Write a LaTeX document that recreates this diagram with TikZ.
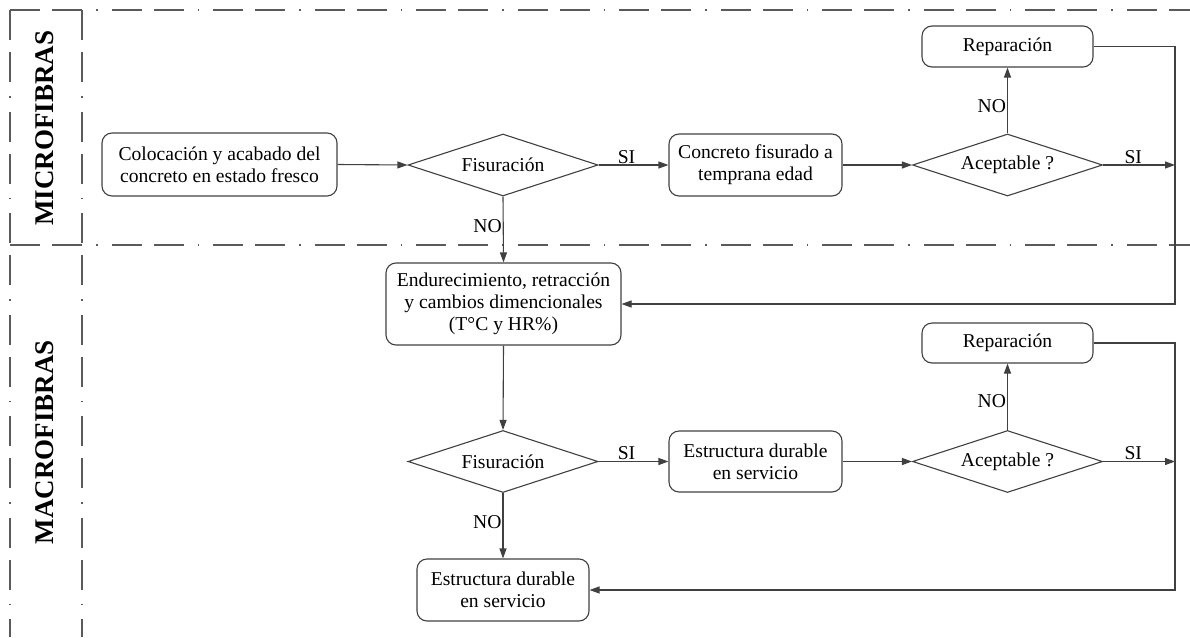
\documentclass[tikz,border=0pt]{standalone}
\usepackage{fontspec}
\setmainfont{Liberation Serif}
\usetikzlibrary{shapes.geometric,arrows.meta}
\definecolor{ln}{HTML}{404040}
\definecolor{lane}{HTML}{5A5A5A}
\tikzset{
  box/.style={draw=ln, line width=1.1pt, rounded corners=10pt, align=center, inner sep=0pt,
    font=\rmfamily\fontsize{19.6}{22}\selectfont},
  dia/.style={draw=ln, line width=1.1pt, diamond, aspect=3, inner sep=0pt,
    minimum width=190pt, minimum height=62pt, font=\rmfamily\fontsize{19.6}{22}\selectfont},
  arr/.style={draw=ln, line width=1.1pt, -{Triangle[length=10pt,width=7pt]}},
  con/.style={draw=ln, line width=1.1pt},
  lbl/.style={font=\rmfamily\fontsize{19.6}{22}\selectfont, inner sep=1pt},
  laneline/.style={draw=lane, line width=1.3pt, dash pattern=on 30pt off 12pt on 30pt off 14pt on 1.5pt off 14pt},
  head/.style={font=\rmfamily\bfseries\fontsize{27}{30}\selectfont, rotate=90}
}
\begin{document}
\begin{tikzpicture}[x=1pt,y=-1pt]
\useasboundingbox (0,0) rectangle (1190,637);
% lanes
\draw[laneline] (10,10) -- (1190,10);
\draw[laneline] (10,245) -- (1190,245);
\draw[laneline] (10,10) -- (10,637);
\draw[laneline] (82,10) -- (82,637);
\node[head] (hmic) at (45,128) {MICROFIBRAS};
\node[head] (hmac) at (45,442) {MACROFIBRAS};
% top lane nodes
\node[box, minimum width=235pt, minimum height=63pt] (col) at (219.5,164.5) {Colocación y acabado del\\concreto en estado fresco};
\node[dia] (fis1) at (503,165) {Fisuración};
\node[box, minimum width=173pt, minimum height=62pt] (cfe) at (755.5,165) {Concreto fisurado a\\temprana edad};
\node[dia] (ac1) at (1007.5,165) {Aceptable ?};
\node[box, minimum width=171pt, minimum height=41pt] (rep1) at (1007.5,46.5) {Reparación};
% bottom lane nodes
\node[box, minimum width=235pt, minimum height=82pt] (end) at (503.5,304) {Endurecimiento, retracción\\y cambios dimencionales\\(T°C y HR\%)};
\node[dia] (fis2) at (503,461.5) {Fisuración};
\node[box, minimum width=173pt, minimum height=61pt] (est1) at (755.5,461.5) {Estructura durable\\en servicio};
\node[dia] (ac2) at (1007.5,461.5) {Aceptable ?};
\node[box, minimum width=171pt, minimum height=40pt] (rep2) at (1007.5,343) {Reparación};
\node[box, minimum width=172pt, minimum height=62pt] (est2) at (503,590) {Estructura durable\\en servicio};
% rail coordinates
\coordinate (si1) at (1175,165);
\coordinate (si2) at (1175,461.5);
\coordinate (rail1) at (1175,304);
\coordinate (rail2) at (1175,590);
% connectors top
\draw[arr] (col.east) -- (fis1.west);
\draw[arr] (fis1.east) -- node[lbl, pos=0.4, above] {SI} (cfe.west);
\draw[arr] (cfe.east) -- (ac1.west);
\draw[arr] (ac1.north) -- node[lbl, pos=0.42, left] {NO} (rep1.south);
\draw[arr] (ac1.east) -- node[lbl, pos=0.42, above] {SI} (si1);
\draw[arr] (rep1.east) -| (rail1) -- (end.east);
\draw[arr] (fis1.south) -- node[lbl, pos=0.45, left] {NO} (end.north);
% connectors bottom
\draw[arr] (end.south) -- (fis2.north);
\draw[arr] (fis2.east) -- node[lbl, pos=0.4, above] {SI} (est1.west);
\draw[arr] (est1.east) -- (ac2.west);
\draw[arr] (ac2.north) -- node[lbl, pos=0.43, left] {NO} (rep2.south);
\draw[arr] (ac2.east) -- node[lbl, pos=0.42, above] {SI} (si2);
\draw[arr] (rep2.east) -| (rail2) -- (est2.east);
\draw[arr] (fis2.south) -- node[lbl, pos=0.45, left] {NO} (est2.north);
\end{tikzpicture}
\end{document}
